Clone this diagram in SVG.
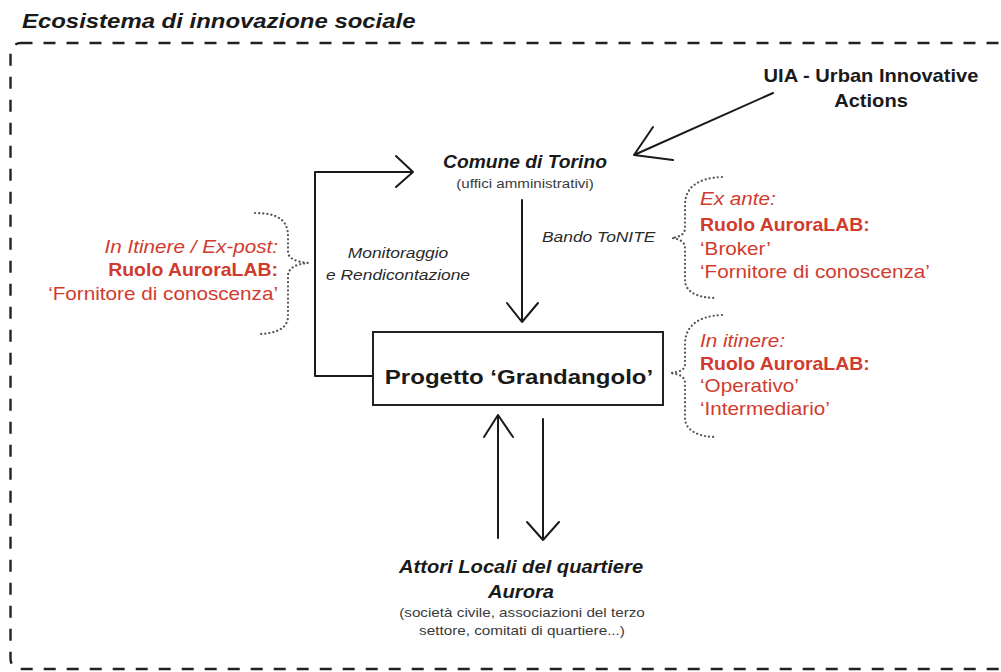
<svg xmlns="http://www.w3.org/2000/svg" width="1001" height="672" viewBox="0 0 1001 672">
<defs>
<style>
text{font-family:"Liberation Sans",Arial,Helvetica,sans-serif;fill:#1a1a1a}
.title{font-size:21px;font-weight:bold;font-style:italic}
.b{font-weight:bold}
.i{font-style:italic}
.sub{font-size:13.5px;fill:#3a3a3a}
.lab{font-size:15px;font-style:italic;fill:#2a2a2a}
.red{font-size:18px;fill:#d13b2e}
.ln{fill:none;stroke:#1a1a1a;stroke-width:2;stroke-linecap:round;stroke-linejoin:round}
.dot{fill:none;stroke:#555;stroke-width:2.2;stroke-linecap:round;stroke-dasharray:0.1 4}
.frame{fill:none;stroke:#222;stroke-width:2.4;stroke-dasharray:12 11}
</style>
</defs>
<rect width="1001" height="672" fill="#ffffff"/>
<g transform="translate(22 0) scale(1.14 1)"><text class="title" x="0" y="28">Ecosistema di innovazione sociale</text></g>
<rect class="frame" x="10.5" y="43" width="1030" height="626" rx="10"/>

<g id="uia" transform="translate(871 0) scale(1.15 1)">
<text class="b" x="0" y="82" text-anchor="middle" style="font-size:17.5px">UIA - Urban Innovative</text>
<text class="b" x="0" y="107" text-anchor="middle" style="font-size:17.5px">Actions</text>
</g>
<g id="comune">
<g transform="translate(525 0) scale(1.1 1)"><text class="b i" x="0" y="168" text-anchor="middle" style="font-size:17.5px">Comune di Torino</text></g>
<g transform="translate(525 0) scale(1.12 1)"><text class="sub" x="0" y="188" text-anchor="middle">(uffici amministrativi)</text></g>
</g>
<g id="progetto">
<rect x="373" y="332" width="290" height="73" fill="#fff" stroke="#222" stroke-width="2"/>
<g transform="translate(519 0) scale(1.145 1)"><text class="b" x="0" y="384" text-anchor="middle" style="font-size:21px">Progetto ‘Grandangolo’</text></g>
</g>
<g id="attori">
<g transform="translate(521 0) scale(1.09 1)">
<text class="b i" x="0" y="573" text-anchor="middle" style="font-size:18.5px">Attori Locali del quartiere</text>
<text class="b i" x="0" y="598" text-anchor="middle" style="font-size:18.5px">Aurora</text>
</g>
<g transform="translate(522 0) scale(1.13 1)">
<text class="sub" x="0" y="617" text-anchor="middle">(società civile, associazioni del terzo</text>
<text class="sub" x="0" y="635" text-anchor="middle">settore, comitati di quartiere...)</text>
</g>
</g>
<g id="ruolo-sinistra">
<g transform="translate(278 0) scale(1.15 1)">
<text class="red i" x="0" y="253" text-anchor="end">In Itinere / Ex-post:</text>
<text class="red" x="0" y="300" text-anchor="end">‘Fornitore di conoscenza’</text>
</g>
<g transform="translate(278 0) scale(1.08 1)"><text class="red b" x="0" y="276" text-anchor="end">Ruolo AuroraLAB:</text></g>
<path class="dot" d="M255,213 C276,213 288,219 288,236 L288,252 C288,258 296,262 308,263 C296,264 288,268 288,276 L288,316 C288,327 279,333 260,334"/>
</g>
<g id="ruolo-exante">
<g transform="translate(700 0) scale(1.15 1)">
<text class="red i" x="0" y="205">Ex ante:</text>
<text class="red" x="0" y="255">‘Broker’</text>
<text class="red" x="0" y="278">‘Fornitore di conoscenza’</text>
</g>
<g transform="translate(700 0) scale(1.08 1)"><text class="red b" x="0" y="231">Ruolo AuroraLAB:</text></g>
<path class="dot" d="M722,177 C697,178 685,188 685,205 L685,228 C685,234 680,237 672,238 C680,239 685,242 685,248 L685,280 C685,292 698,298 716,298"/>
</g>
<g id="ruolo-initinere">
<g transform="translate(700 0) scale(1.15 1)">
<text class="red i" x="0" y="347">In itinere:</text>
<text class="red" x="0" y="392">‘Operativo’</text>
<text class="red" x="0" y="415">‘Intermediario’</text>
</g>
<g transform="translate(700 0) scale(1.08 1)"><text class="red b" x="0" y="370">Ruolo AuroraLAB:</text></g>
<path class="dot" d="M722,315 C697,316 685,327 685,344 L685,364 C685,370 680,372 670,373 C680,374 685,377 685,383 L685,418 C685,430 698,437 716,437"/>
</g>
<g id="connectors">
<path class="ln" d="M773,93 L634,155 M653,127 L634,155 L673,160"/>
<path class="ln" d="M522,200 L522,322 M507,303 L522,322 L538,303"/>
<path class="ln" d="M373,376 L315,376 L315,172 L413,172 M396,156 L413,172 L396,187"/>
<path class="ln" d="M498,538 L498,415 M484,437 L498,415 L513,437"/>
<path class="ln" d="M543,419 L543,540 M527,522 L543,540 L559,522"/>
<g transform="translate(542 0) scale(1.16 1)"><text class="lab" x="0" y="242">Bando ToNITE</text></g>
<g transform="translate(398 0) scale(1.16 1)">
<text class="lab" x="0" y="258" text-anchor="middle">Monitoraggio</text>
<text class="lab" x="0" y="280" text-anchor="middle">e Rendicontazione</text>
</g>
</g>
</svg>
